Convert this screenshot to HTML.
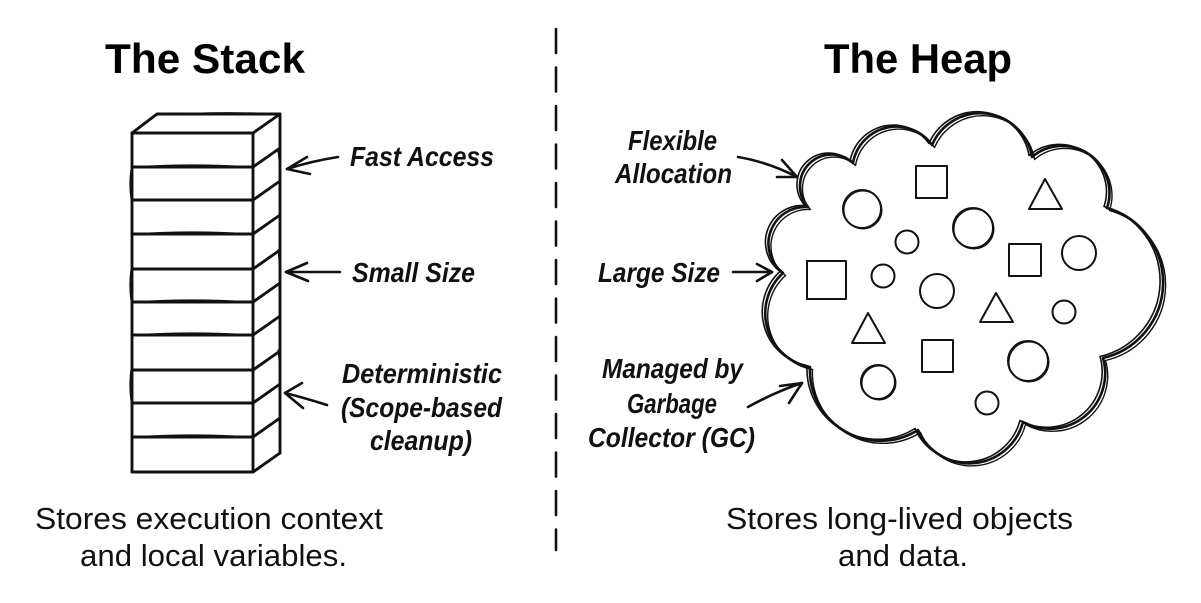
<!DOCTYPE html>
<html>
<head>
<meta charset="utf-8">
<style>
  html,body{margin:0;padding:0;background:#fff;}
  svg{display:block;}
  .t{font-family:"Liberation Sans",sans-serif;font-weight:bold;font-size:42px;fill:#000;}
  .h{font-family:"Liberation Sans",sans-serif;font-weight:bold;font-style:italic;font-size:28px;fill:#111;}
  .b{font-family:"Liberation Sans",sans-serif;font-size:31px;fill:#111;}
  .s{fill:none;stroke:#111;stroke-linecap:round;stroke-linejoin:round;}
</style>
</head>
<body>
<svg width="1201" height="603" viewBox="0 0 1201 603" xmlns="http://www.w3.org/2000/svg">
  <rect width="1201" height="603" fill="#fff"/>

  <!-- Titles -->
  <text class="t" x="105" y="73" textLength="200" lengthAdjust="spacingAndGlyphs">The Stack</text>
  <text class="t" x="824" y="73" textLength="188" lengthAdjust="spacingAndGlyphs">The Heap</text>

  <!-- Divider -->
  <line x1="556" y1="29" x2="556" y2="550" class="s" stroke-width="2.6" stroke-dasharray="24 14.5"/>

  <!-- Stack -->
  <g class="s" stroke-width="2.9">
    <!-- top face -->
    <path d="M132 133 L157 114 L280 114 L253 133 Z"/>
    <path d="M157 115 Q218 111 280 114" stroke-width="1.3"/>
    <!-- front verticals -->
    <path d="M132 133 L132 472"/>
    <path d="M253 133 L253 472"/>
    <path d="M131 170 Q129 185 131 198 M131 270 Q129 285 131 300 M131 370 Q129 385 131 400" stroke-width="1.3"/>
    <!-- side -->
    <path d="M280 114 L280 453"/>
    <path d="M278 150 Q281 170 279 190 M278 250 Q281 270 279 290 M278 350 Q281 370 279 390" stroke-width="1.3"/>
    <path d="M253 472 L280 453"/>
    <!-- horizontals -->
    <path d="M132 133 L253 133"/>
    <path d="M132 167 L253 167"/><path d="M134 167 Q192 163 251 167" stroke-width="1.3"/>
    <path d="M132 200 L253 200"/>
    <path d="M132 234 L253 234"/><path d="M134 234 Q192 230 251 234" stroke-width="1.3"/>
    <path d="M132 269 L253 269"/>
    <path d="M132 302 L253 302"/><path d="M134 302 Q192 298 251 302" stroke-width="1.3"/>
    <path d="M132 335 L253 335"/><path d="M134 335 Q192 331 251 335" stroke-width="1.3"/>
    <path d="M132 370 L253 370"/>
    <path d="M132 403 L253 403"/>
    <path d="M132 437 L253 437"/><path d="M134 437 Q192 433 251 437" stroke-width="1.3"/>
    <path d="M132 472 L253 472"/>
    <!-- side diagonals -->
    <path d="M253 167 L280 148"/>
    <path d="M253 200 L280 181"/>
    <path d="M253 234 L280 215"/>
    <path d="M253 269 L280 250"/>
    <path d="M253 302 L280 283"/>
    <path d="M253 335 L280 316"/>
    <path d="M253 370 L280 351"/>
    <path d="M253 403 L280 384"/>
    <path d="M253 437 L280 418"/>
  </g>

  <!-- Stack arrows -->
  <g class="s" stroke-width="2.6">
    <path d="M338 157 Q312 161 287 169"/>
    <path d="M307 157 L287 169 L310 174"/>
    <path d="M340 272 L286 272"/>
    <path d="M307 263 L286 272 L308 281"/>
    <path d="M327 405 Q305 398 285 393"/>
    <path d="M302 383 L285 393 L303 408"/>
  </g>

  <!-- Stack labels -->
  <text class="h" x="350" y="166" textLength="144" lengthAdjust="spacingAndGlyphs">Fast Access</text>
  <text class="h" x="352" y="282" textLength="123" lengthAdjust="spacingAndGlyphs">Small Size</text>
  <text class="h" x="342" y="383" textLength="160" lengthAdjust="spacingAndGlyphs">Deterministic</text>
  <text class="h" x="341" y="417" textLength="161" lengthAdjust="spacingAndGlyphs">(Scope-based</text>
  <text class="h" x="370" y="450" textLength="102" lengthAdjust="spacingAndGlyphs">cleanup)</text>

  <!-- Cloud -->
  <g class="s">
    <path stroke-width="2.6" d="M808 207 A31.5 31.5 0 0 1 853 163 A43.9 43.9 0 0 1 932 145 A52.5 52.5 0 0 1 1032 157 A47.1 47.1 0 0 1 1107 208 A77.5 77.5 0 0 1 1103 358 A55.5 55.5 0 0 1 1023 422 A55.8 55.8 0 0 1 918 430 A70.5 70.5 0 0 1 810 367 A54.6 54.6 0 0 1 783 273 A36.8 36.8 0 0 1 808 207 Z"/>
    <path stroke-width="1.6" transform="translate(-3 -1.5)" d="M808 207 A31.5 31.5 0 0 1 853 163 A43.9 43.9 0 0 1 932 145 A52.5 52.5 0 0 1 1032 157 A47.1 47.1 0 0 1 1107 208 A77.5 77.5 0 0 1 1103 358 A55.5 55.5 0 0 1 1023 422 A55.8 55.8 0 0 1 918 430 A70.5 70.5 0 0 1 810 367 A54.6 54.6 0 0 1 783 273 A36.8 36.8 0 0 1 808 207 Z"/>
    <path stroke-width="1.4" transform="translate(2.5 2.5)" d="M808 207 A31.5 31.5 0 0 1 853 163 A43.9 43.9 0 0 1 932 145 A52.5 52.5 0 0 1 1032 157 A47.1 47.1 0 0 1 1107 208 A77.5 77.5 0 0 1 1103 358 A55.5 55.5 0 0 1 1023 422 A55.8 55.8 0 0 1 918 430 A70.5 70.5 0 0 1 810 367 A54.6 54.6 0 0 1 783 273 A36.8 36.8 0 0 1 808 207 Z"/>
  </g>

  <!-- Shapes inside cloud -->
  <g class="s" stroke-width="2">
    <circle cx="862" cy="209" r="19"/>
    <rect x="916" y="166" width="31" height="32"/>
    <path d="M1045 179 L1029 209 L1062 209 Z"/>
    <circle cx="907" cy="242" r="11.5"/>
    <circle cx="973" cy="228" r="20"/>
    <rect x="1009" y="244" width="32" height="32"/>
    <circle cx="1079" cy="253" r="17"/>
    <rect x="807" y="261" width="39" height="38"/>
    <circle cx="883" cy="276" r="11.5"/>
    <circle cx="937" cy="291" r="17"/>
    <path d="M996 293 L980 322 L1013 322 Z"/>
    <circle cx="1064" cy="312" r="11.5"/>
    <path d="M868 313 L852 343 L885 343 Z"/>
    <rect x="922" y="340" width="31" height="32"/>
    <circle cx="1028" cy="361" r="20"/>
    <circle cx="878" cy="382" r="17"/>
    <circle cx="987" cy="403" r="11.5"/>
  </g>
  <g class="s" stroke-width="1" transform="translate(1 1)">
    <circle cx="862" cy="209" r="19"/>
    <circle cx="973" cy="228" r="20"/>
    <circle cx="1028" cy="361" r="20"/>
    <circle cx="878" cy="382" r="17"/>
  </g>

  <!-- Heap arrows -->
  <g class="s" stroke-width="2.6">
    <path d="M738 157 Q768 162 797 177"/>
    <path d="M782 160 L797 177 L777 177"/>
    <path d="M733 272 L772 272"/>
    <path d="M757 264 L772 272 L757 281"/>
    <path d="M748 407 Q775 392 802 383"/>
    <path d="M780 386 L802 383 L789 403"/>
  </g>

  <!-- Heap labels -->
  <text class="h" x="628" y="150" textLength="89" lengthAdjust="spacingAndGlyphs">Flexible</text>
  <text class="h" x="615" y="183" textLength="117" lengthAdjust="spacingAndGlyphs">Allocation</text>
  <text class="h" x="598" y="282" textLength="122" lengthAdjust="spacingAndGlyphs">Large Size</text>
  <text class="h" x="602" y="378" textLength="141" lengthAdjust="spacingAndGlyphs">Managed by</text>
  <text class="h" x="627" y="413" textLength="90" lengthAdjust="spacingAndGlyphs">Garbage</text>
  <text class="h" x="588" y="447" textLength="167" lengthAdjust="spacingAndGlyphs">Collector (GC)</text>

  <!-- Bottom captions -->
  <text class="b" x="35" y="529" textLength="348" lengthAdjust="spacingAndGlyphs">Stores execution context</text>
  <text class="b" x="80" y="566" textLength="267" lengthAdjust="spacingAndGlyphs">and local variables.</text>
  <text class="b" x="726" y="529" textLength="347" lengthAdjust="spacingAndGlyphs">Stores long-lived objects</text>
  <text class="b" x="838" y="566" textLength="130" lengthAdjust="spacingAndGlyphs">and data.</text>
</svg>
</body>
</html>
